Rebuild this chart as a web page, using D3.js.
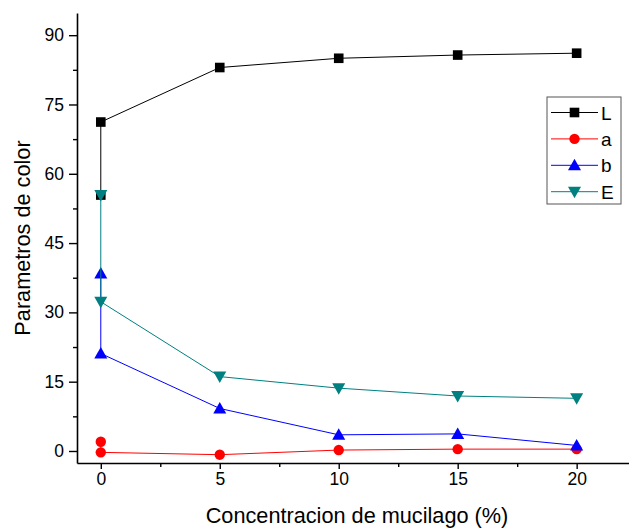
<!DOCTYPE html>
<html>
<head>
<meta charset="utf-8">
<script src="https://cdn.jsdelivr.net/npm/d3@7"></script>
<style>
  body { margin: 0; background: #fff; }
  svg { display: block; font-family: "Liberation Sans", Arial, sans-serif; }
</style>
</head>
<body>
<div id="chart"></div>
<script>
// values
const conc = [0, 0, 5, 10, 15, 20];
const valL = [55.4, 71.2, 83.0, 85.0, 85.7, 86.1];
const valA = [2.0, -0.3, -0.8, 0.2, 0.4, 0.4];
const valB = [38.4, 21.1, 9.2, 3.5, 3.7, 1.2];
const valE = [55.4, 32.3, 16.1, 13.6, 11.9, 11.4];
const seriesNames = ["L", "a", "b", "E"];
const xTicks = [0, 5, 10, 15, 20];
const yTicks = [0, 15, 30, 45, 60, 75, 90];

const width = 629, height = 529;

const svg = d3.select("#chart")
  .append("svg")
  .attr("width", width)
  .attr("height", height);

const x = d3.scaleLinear()
  .domain([-1, 22.2])
  .range([77, 629]);

const y = d3.scaleLinear()
  .domain([-2.6, 94.8])
  .range([463, 13]);

const series = [
  { name: seriesNames[0], values: valL, color: "#000000", shape: "square" },
  { name: seriesNames[1], values: valA, color: "#ff0000", shape: "circle" },
  { name: seriesNames[2], values: valB, color: "#0000ff", shape: "up" },
  { name: seriesNames[3], values: valE, color: "#008080", shape: "down" }
];

function marker(g, shape, color) {
  if (shape === "square") {
    g.append("rect").attr("x", -4.8).attr("y", -4.8)
      .attr("width", 9.6).attr("height", 9.6).attr("fill", color);
  } else if (shape === "circle") {
    g.append("circle").attr("r", 5.2).attr("fill", color);
  } else if (shape === "up") {
    g.append("path").attr("d", "M0,-6.5L6.5,5L-6.5,5Z").attr("fill", color);
  } else {
    g.append("path").attr("d", "M0,6.5L6.5,-5L-6.5,-5Z").attr("fill", color);
  }
}

// axes
svg.append("g")
  .attr("transform", "translate(0,463)")
  .call(d3.axisBottom(x).tickValues(xTicks).tickSize(6).tickPadding(4).tickSizeOuter(0));

svg.append("g")
  .attr("transform", "translate(0,463)")
  .call(d3.axisBottom(x).tickValues([2.5, 7.5, 12.5, 17.5]).tickSize(4).tickFormat("").tickSizeOuter(0))
  .select(".domain").remove();

svg.append("g")
  .attr("transform", "translate(77,0)")
  .call(d3.axisLeft(y).tickValues(yTicks).tickSize(8).tickPadding(5).tickSizeOuter(0));

svg.append("g")
  .attr("transform", "translate(77,0)")
  .call(d3.axisLeft(y).tickValues([7.5, 22.5, 37.5, 52.5, 67.5, 82.5]).tickSize(4).tickFormat("").tickSizeOuter(0))
  .select(".domain").remove();

svg.selectAll(".domain").attr("stroke", "#000").attr("stroke-width", 1.6);
svg.selectAll(".tick line").attr("stroke", "#000").attr("stroke-width", 1.4);
svg.selectAll(".tick text")
  .attr("font-size", 17.5)
  .attr("font-family", "Liberation Sans, Arial, sans-serif")
  .attr("fill", "#000");

// series
const line = d3.line()
  .x((d, i) => x(conc[i]))
  .y(d => y(d));

series.forEach(s => {
  svg.append("path")
    .datum(s.values)
    .attr("fill", "none")
    .attr("stroke", s.color)
    .attr("stroke-width", 1)
    .attr("d", line);

  s.values.forEach((v, i) => {
    const g = svg.append("g")
      .attr("transform", "translate(" + x(conc[i]) + "," + y(v) + ")");
    marker(g, s.shape, s.color);
  });
});

// legend
const legend = svg.append("g");
legend.append("rect")
  .attr("x", 547).attr("y", 97)
  .attr("width", 74).attr("height", 107)
  .attr("fill", "#fff")
  .attr("stroke", "#555")
  .attr("stroke-width", 1);

series.forEach((s, i) => {
  const ly = 112.5 + i * 26.4;
  legend.append("line")
    .attr("x1", 551).attr("x2", 598)
    .attr("y1", ly).attr("y2", ly)
    .attr("stroke", s.color)
    .attr("stroke-width", 1);
  const g = legend.append("g").attr("transform", "translate(574.5," + ly + ")");
  marker(g, s.shape, s.color);
  legend.append("text")
    .attr("x", 601).attr("y", ly + 7)
    .attr("font-size", 19)
    .text(s.name);
});

// axis titles
svg.append("text")
  .attr("x", 357)
  .attr("y", 523)
  .attr("text-anchor", "middle")
  .attr("font-size", 21.7)
  .text("Concentracion de mucilago (%)");

svg.append("text")
  .attr("transform", "rotate(-90)")
  .attr("x", -238)
  .attr("y", 30)
  .attr("text-anchor", "middle")
  .attr("font-size", 21.7)
  .text("Parametros de color");
</script>
</body>
</html>
